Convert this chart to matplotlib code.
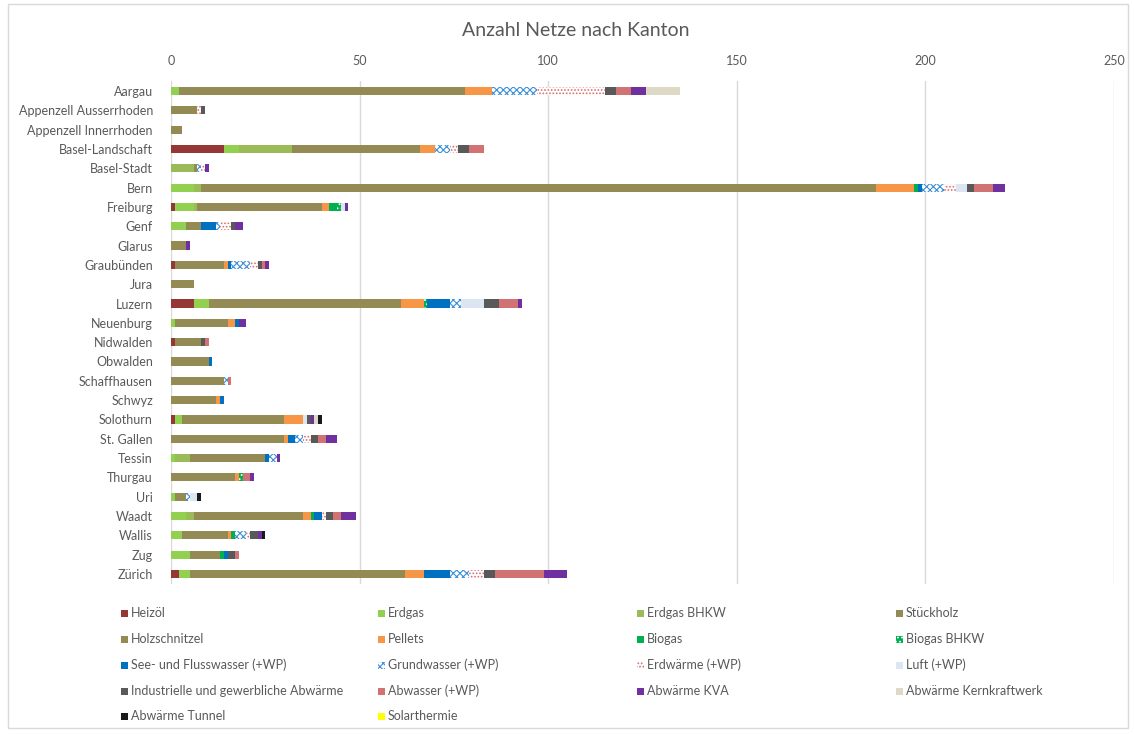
import matplotlib
matplotlib.use("Agg")
import matplotlib.pyplot as plt
from matplotlib.patches import Rectangle
import numpy as np

plt.rcParams['font.family'] = ['Lato', 'DejaVu Sans']
plt.rcParams['hatch.linewidth'] = 0.8

cantons = ["Aargau", "Appenzell Ausserrhoden", "Appenzell Innerrhoden", "Basel-Landschaft",
           "Basel-Stadt", "Bern", "Freiburg", "Genf", "Glarus", "Graubünden", "Jura", "Luzern",
           "Neuenburg", "Nidwalden", "Obwalden", "Schaffhausen", "Schwyz", "Solothurn",
           "St. Gallen", "Tessin", "Thurgau", "Uri", "Waadt", "Wallis", "Zug", "Zürich"]

#                 AG AR AI BL BS  BE FR GE GL GR JU LU NE NW OW SH SZ SO SG TI TG UR VD VS ZG ZH
heizoel        = [0, 0, 0, 14, 0, 0, 1, 0, 0, 1, 0, 6, 0, 1, 0, 0, 0, 1, 0, 0, 0, 0, 0, 0, 0, 2]
erdgas         = [2, 0, 0, 4, 0, 6, 5, 4, 0, 0, 0, 4, 1, 0, 0, 0, 0, 2, 0, 1, 0, 1, 4, 3, 5, 3]
erdgas_bhkw    = [0, 0, 0, 14, 6, 2, 1, 0, 0, 0, 0, 0, 0, 0, 0, 0, 0, 0, 0, 4, 0, 0, 2, 0, 0, 0]
stueckholz     = [0, 0, 0, 0, 0, 0, 0, 0, 0, 0, 0, 0, 0, 0, 0, 0, 0, 0, 0, 0, 0, 0, 0, 0, 0, 0]
holzschnitzel  = [76, 7, 3, 34, 1, 179, 33, 4, 4, 13, 6, 51, 14, 7, 10, 14, 12, 27, 30, 20, 17, 3, 29, 12, 8, 57]
pellets        = [7, 0, 0, 4, 0, 10, 2, 0, 0, 1, 0, 6, 2, 0, 0, 0, 1, 5, 1, 0, 1, 0, 2, 1, 0, 5]
biogas         = [0, 0, 0, 0, 0, 1, 2, 0, 0, 0, 0, 0, 0, 0, 0, 0, 0, 0, 0, 0, 0, 0, 1, 1, 1, 0]
biogas_bhkw    = [0, 0, 0, 0, 0, 0, 1, 0, 0, 0, 0, 1, 0, 0, 0, 0, 0, 0, 0, 0, 1, 0, 0, 0, 0, 0]
seewasser      = [0, 0, 0, 0, 0, 1, 0, 4, 0, 1, 0, 6, 1, 0, 1, 0, 1, 0, 2, 1, 0, 0, 2, 0, 1, 7]
grundwasser    = [12, 0, 0, 4, 1, 6, 0, 1, 0, 5, 0, 3, 0, 0, 0, 1, 0, 0, 2, 2, 0, 1, 0, 3, 0, 5]
erdwaerme      = [18, 1, 0, 2, 1, 3, 0, 3, 0, 2, 0, 0, 0, 0, 0, 0, 0, 0, 2, 0, 0, 0, 1, 1, 0, 4]
luft           = [0, 0, 0, 0, 0, 3, 1, 0, 0, 0, 0, 6, 0, 0, 0, 0, 0, 1, 0, 0, 0, 2, 0, 0, 0, 0]
industrie      = [3, 1, 0, 3, 0, 2, 0, 1, 0, 1, 0, 4, 0, 1, 0, 0, 0, 1, 2, 0, 0, 0, 2, 2, 2, 3]
abwasser       = [4, 0, 0, 4, 0, 5, 0, 0, 0, 1, 0, 5, 0, 1, 0, 1, 0, 0, 2, 0, 2, 0, 2, 0, 1, 13]
kva            = [4, 0, 0, 0, 1, 3, 1, 2, 1, 1, 0, 1, 2, 0, 0, 0, 0, 1, 3, 1, 1, 0, 4, 1, 0, 6]
kernkraftwerk  = [9, 0, 0, 0, 0, 0, 0, 0, 0, 0, 0, 0, 0, 0, 0, 0, 0, 1, 0, 0, 0, 0, 0, 0, 0, 0]
tunnel         = [0, 0, 0, 0, 0, 0, 0, 0, 0, 0, 0, 0, 0, 0, 0, 0, 0, 1, 0, 0, 0, 1, 0, 1, 0, 0]
solarthermie   = [0] * 26

x_ticks = [0, 50, 100, 150, 200, 250]

# (label, values, face, hatch, hatch colour)
series = [
    ("Heizöl", heizoel, "#953735", None, None),
    ("Erdgas", erdgas, "#92D050", None, None),
    ("Erdgas BHKW", erdgas_bhkw, "#9BBB59", None, None),
    ("Stückholz", stueckholz, "#948A54", None, None),
    ("Holzschnitzel", holzschnitzel, "#948A54", None, None),
    ("Pellets", pellets, "#F79646", None, None),
    ("Biogas", biogas, "#00B050", None, None),
    ("Biogas BHKW", biogas_bhkw, "#00B050", "....", "#FFFFFF"),
    ("See- und Flusswasser (+WP)", seewasser, "#0070C0", None, None),
    ("Grundwasser (+WP)", grundwasser, "#FFFFFF", "xxxxx", "#3A8FD8"),
    ("Erdwärme (+WP)", erdwaerme, "#FFFFFF", ".....", "#D96B6B"),
    ("Luft (+WP)", luft, "#DCE6F2", None, None),
    ("Industrielle und gewerbliche Abwärme", industrie, "#595959", None, None),
    ("Abwasser (+WP)", abwasser, "#D07372", None, None),
    ("Abwärme KVA", kva, "#7030A0", None, None),
    ("Abwärme Kernkraftwerk", kernkraftwerk, "#DDD9C4", None, None),
    ("Abwärme Tunnel", tunnel, "#1A1A1A", None, None),
    ("Solarthermie", solarthermie, "#FFFF00", None, None),
]

W, H = 1134, 734
fig = plt.figure(figsize=(W / 100, H / 100), dpi=100)
text_col = "#595959"

# outer chart border
fig.patches.append(Rectangle((8 / W, 1 - 728 / H), (1128 - 8) / W, (728 - 4) / H,
                             transform=fig.transFigure, fill=False,
                             edgecolor="#D9D9D9", linewidth=1.0))

ax = fig.add_axes([171 / W, 1 - 583.7 / H, (1114 - 171) / W, (583.7 - 81.3) / H])
y = np.arange(len(cantons))
left = np.zeros(len(cantons))
for label, vals, face, hatch, hcol in series:
    vals = np.asarray(vals, dtype=float)
    if hatch:
        ax.barh(y, vals, left=left, height=0.42, color=face, hatch=hatch,
                edgecolor=hcol, linewidth=0, label=label, zorder=3)
    else:
        ax.barh(y, vals, left=left, height=0.42, color=face, linewidth=0,
                label=label, zorder=3)
    left += vals

ax.set_ylim(len(cantons) - 0.5, -0.5)
ax.set_xlim(0, 250)
ax.set_xticks(x_ticks)
ax.xaxis.tick_top()
ax.set_yticks(y)
ax.set_yticklabels(cantons)
ax.tick_params(axis="both", length=0, labelsize=9, labelcolor=text_col)
ax.tick_params(axis="x", pad=10)
ax.tick_params(axis="y", pad=13)
ax.grid(axis="x", color="#D9D9D9", linewidth=1.0, zorder=0)
for s in ax.spines.values():
    s.set_visible(False)

fig.text(576 / W, 1 - 31 / H, "Anzahl Netze nach Kanton", ha="center", va="center",
         fontsize=14, color=text_col)

# legend laid out row by row in four columns
col_x = [121, 378, 637, 896]
row_y = [613, 639, 665, 691, 716]
for i, (label, vals, face, hatch, hcol) in enumerate(series):
    r, c = divmod(i, 4)
    x0, y0 = col_x[c], row_y[r]
    sq = 7
    if hatch:
        p = Rectangle((x0 / W, 1 - (y0 + sq / 2) / H), sq / W, sq / H,
                      transform=fig.transFigure, facecolor=face, hatch=hatch,
                      edgecolor=hcol, linewidth=0)
    else:
        p = Rectangle((x0 / W, 1 - (y0 + sq / 2) / H), sq / W, sq / H,
                      transform=fig.transFigure, facecolor=face, linewidth=0)
    fig.patches.append(p)
    fig.text((x0 + sq + 3) / W, 1 - y0 / H, label, ha="left", va="center",
             fontsize=9, color=text_col)

fig.savefig("out.png", dpi=100, facecolor="white")
